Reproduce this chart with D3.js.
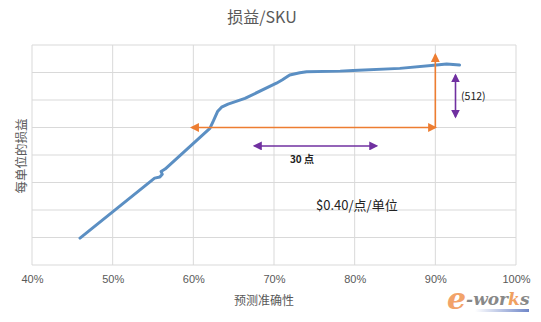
<!DOCTYPE html>
<html><head><meta charset="utf-8">
<script src="https://cdn.jsdelivr.net/npm/d3@7"></script>
<style>body{margin:0;background:#fff;}svg{display:block;font-family:"Noto Sans CJK SC","DejaVu Sans",sans-serif;}</style>
</head><body><svg id="c" width="541" height="322"></svg>
<script>
// data
const xTicks = [40, 50, 60, 70, 80, 90, 100];
const yTicks = [0, 1, 2, 3, 4, 5, 6, 7, 8];
const accuracy = [45.95, 55.2, 55.85, 56.15, 56.0, 56.5, 62.05, 62.5, 63.0, 63.5, 64.3, 66.4, 70.3, 71.0, 71.95, 73.2, 74.05, 78.2, 79.8, 85.6, 90.15, 91.4, 93.0];
const profit =   [0.98, 3.16, 3.2, 3.3, 3.4, 3.49, 4.97, 5.25, 5.58, 5.74, 5.85, 6.06, 6.61, 6.73, 6.91, 6.99, 7.03, 7.05, 7.07, 7.15, 7.27, 7.31, 7.27];
const orangeH = [[90, 5], [59.8, 5]];
const orangeV = [[90, 5], [90, 7.64]];
const purpleH = [[67.6, 4.33], [82.7, 4.33]];
const purpleV = [[92.5, 6.9], [92.5, 5.39]];
const title = "损益/SKU", xTitle = "预测准确性", yTitle = "每单位的损益";
const note1 = "(512)", note2 = "30 点", note3 = "$0.40/点/单位";

const svg = d3.select("#c");
const L = 32, R = 516, T = 45, B = 265;
const x = d3.scaleLinear().domain([40, 100]).range([L, R]);
const y = d3.scaleLinear().domain([0, 8]).range([B, T]);

const defs = svg.append("defs");
function marker(id, color, size) {
  defs.append("marker").attr("id", id).attr("viewBox", "0 0 10 10").attr("refX", 8).attr("refY", 5)
    .attr("markerWidth", size).attr("markerHeight", size).attr("orient", "auto-start-reverse")
    .attr("markerUnits", "userSpaceOnUse")
    .append("path").attr("d", "M0,0 L10,5 L0,10 Z").attr("fill", color);
}
marker("ao", "#ED7D31", 9);
marker("ap", "#7030A0", 9);

// grid
svg.append("g").selectAll("line").data(xTicks).join("line")
  .attr("x1", d => x(d)).attr("x2", d => x(d)).attr("y1", T).attr("y2", B)
  .attr("stroke", "#d9d9d9").attr("stroke-width", 1);
svg.append("g").selectAll("line").data(yTicks).join("line")
  .attr("x1", L).attr("x2", R).attr("y1", d => y(d)).attr("y2", d => y(d))
  .attr("stroke", "#d9d9d9").attr("stroke-width", 1);

// x axis labels
const xa = svg.append("g").attr("transform", `translate(0,${B})`)
  .call(d3.axisBottom(x).tickValues(xTicks).tickFormat(d => d + "%").tickSize(0).tickPadding(10));
xa.select(".domain").remove();
xa.selectAll("text").style("fill", "#595959").attr("font-size", 11).attr("font-family", "'Liberation Sans', 'DejaVu Sans', sans-serif");

// titles
svg.append("text").attr("x", 262).attr("y", 23).attr("text-anchor", "middle").attr("font-size", 16).style("fill", "#595959").text(title);
svg.append("text").attr("x", 264).attr("y", 305).attr("text-anchor", "middle").attr("font-size", 12).style("fill", "#595959").text(xTitle);
svg.append("text").attr("transform", "translate(26,156) rotate(-90)").attr("text-anchor", "middle").attr("font-size", 12.5).style("fill", "#595959").text(yTitle);

// main line
const pts = accuracy.map((a, i) => [a, profit[i]]);
svg.append("path").datum(pts)
  .attr("d", d3.line().x(d => x(d[0])).y(d => y(d[1])).curve(d3.curveLinear))
  .attr("fill", "none").attr("stroke", "#5B8FC3").attr("stroke-width", 3)
  .attr("stroke-linecap", "round").attr("stroke-linejoin", "round");

// arrows
const ln = d3.line().x(d => x(d[0])).y(d => y(d[1]));
svg.append("path").datum(orangeH).attr("d", ln).attr("stroke", "#ED7D31").attr("stroke-width", 1.6)
  .attr("fill", "none").attr("marker-end", "url(#ao)").attr("marker-start", "url(#ao)");
svg.append("path").datum(orangeV).attr("d", ln).attr("stroke", "#ED7D31").attr("stroke-width", 1.6)
  .attr("fill", "none").attr("marker-end", "url(#ao)");
svg.append("path").datum(purpleH).attr("d", ln).attr("stroke", "#7030A0").attr("stroke-width", 1.6)
  .attr("fill", "none").attr("marker-end", "url(#ap)").attr("marker-start", "url(#ap)");
svg.append("path").datum(purpleV).attr("d", ln).attr("stroke", "#7030A0").attr("stroke-width", 1.6)
  .attr("fill", "none").attr("marker-end", "url(#ap)").attr("marker-start", "url(#ap)");

// notes
svg.append("text").attr("x", 461).attr("y", 100).attr("font-size", 10.5).style("fill", "#222").text(note1);
svg.append("text").attr("x", 302).attr("y", 163).attr("text-anchor", "middle").attr("font-size", 10).attr("font-weight", "bold").style("fill", "#222").text(note2);
svg.append("text").attr("x", 316).attr("y", 210).attr("font-size", 13).style("fill", "#222").text(note3);

// watermark
const wm = svg.append("g").attr("transform", "translate(447,312)");
const grad = defs.append("linearGradient").attr("id", "wg");
grad.append("stop").attr("offset", "0%").attr("stop-color", "#ffffff");
grad.append("stop").attr("offset", "100%").attr("stop-color", "#6f86c8");
wm.append("rect").attr("x", 28).attr("y", -3).attr("width", 54).attr("height", 3).attr("fill", "url(#wg)");
const wt = wm.append("text").attr("y", -7).attr("font-family", "'DejaVu Serif', serif").attr("font-style", "italic").attr("font-weight", "bold");
wt.append("tspan").attr("font-size", 30).style("fill", "#f2a36a").attr("dy", 4).text("e");
wt.append("tspan").attr("font-size", 17).style("fill", "#888").attr("dy", -4).text("-wor");
wt.append("tspan").attr("font-size", 17).style("fill", "#f0a060").text("k");
wt.append("tspan").attr("font-size", 17).style("fill", "#888").text("s");
</script></body></html>
